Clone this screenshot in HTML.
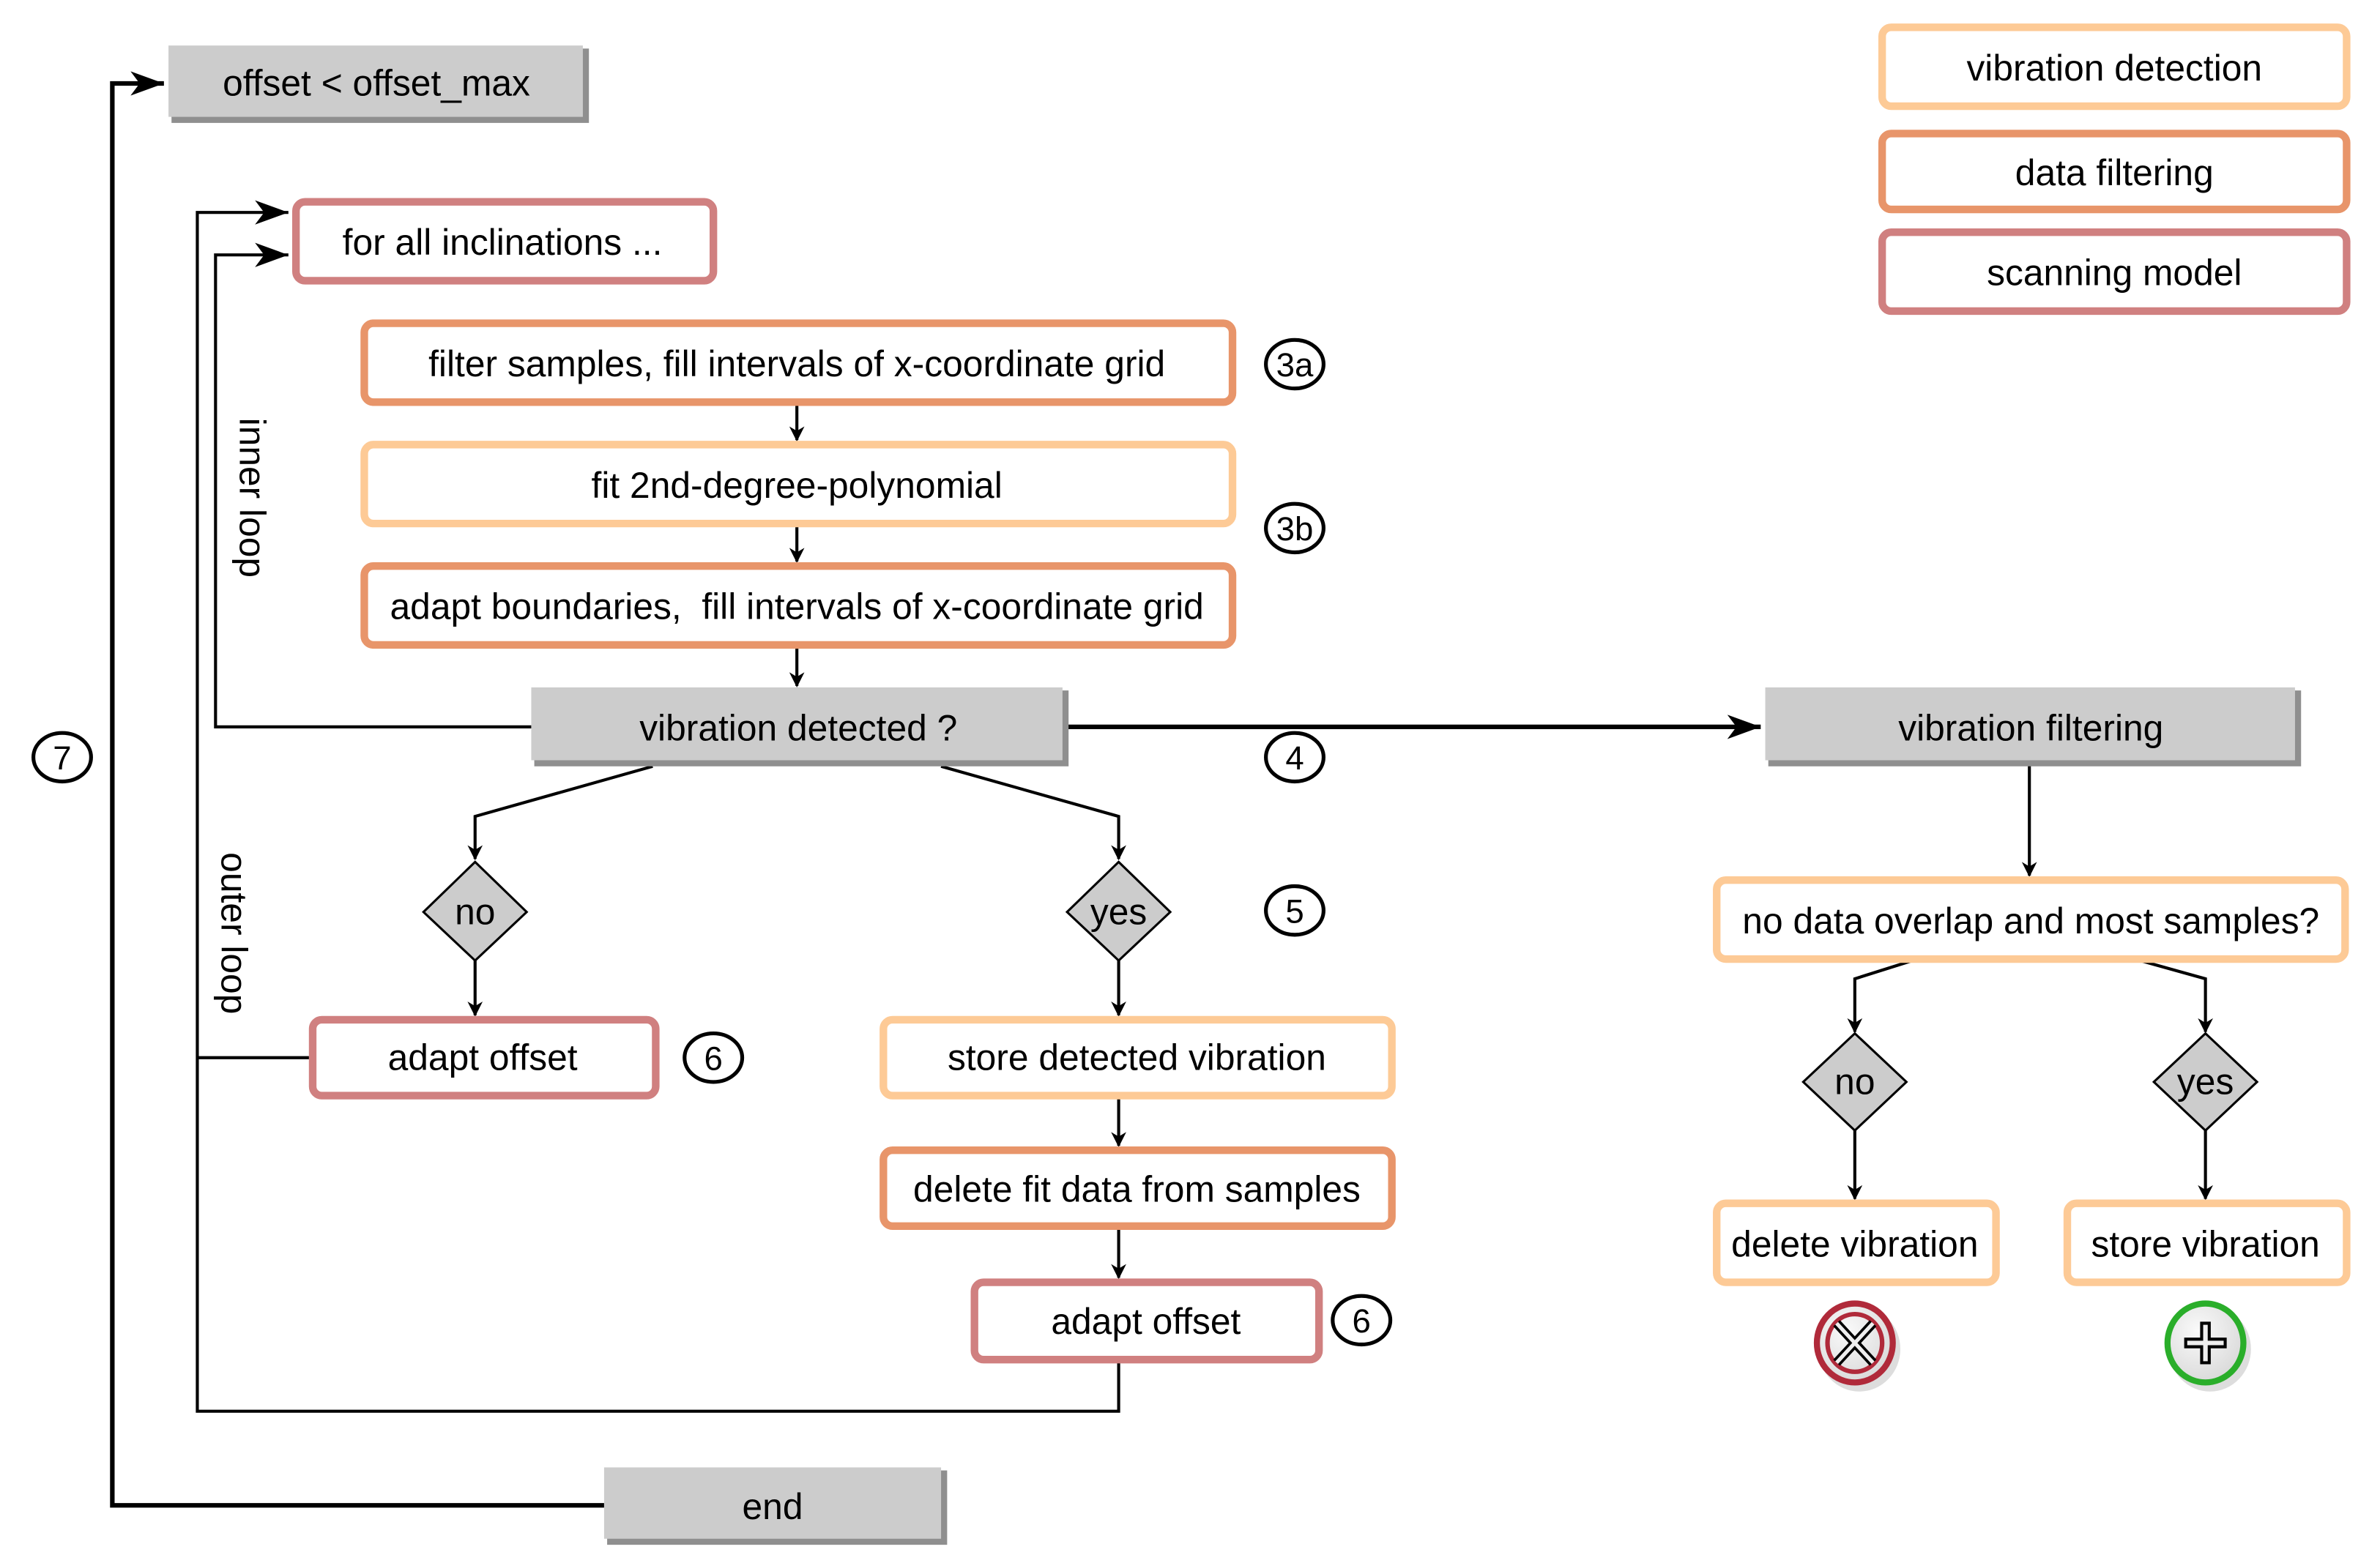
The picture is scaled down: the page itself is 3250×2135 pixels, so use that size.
<!DOCTYPE html>
<html><head><meta charset="utf-8"><style>html,body{margin:0;padding:0;background:#fff}svg{display:block}</style></head>
<body>
<svg xmlns="http://www.w3.org/2000/svg" width="3250" height="2135" viewBox="0 0 1568 1030" preserveAspectRatio="none" font-family="Liberation Sans, Arial, sans-serif" font-size="24" text-anchor="middle">
<defs>
<marker id="a" markerWidth="10" markerHeight="10" refX="9" refY="5" orient="auto" markerUnits="userSpaceOnUse" viewBox="0 0 10 10"><path d="M0,0 L10,5 L0,10 L3,5 Z" fill="#000"/></marker>
<marker id="b" markerWidth="22" markerHeight="16" refX="22" refY="8" orient="auto" markerUnits="userSpaceOnUse"><path d="M0,0 L22,8 L0,16 L6,8 Z" fill="#000"/></marker>
<radialGradient id="g" cx="0.4" cy="0.35" r="0.7"><stop offset="0" stop-color="#fafafa"/><stop offset="1" stop-color="#d8d8d8"/></radialGradient>
</defs>
<g fill="none" stroke="#000" stroke-width="2">
<polyline points="398,992 74,992 74,55 108,55" stroke-width="3" marker-end="url(#b)"/>
<polyline points="737,897 737,930 130,930 130,140 190,140" marker-end="url(#b)"/>
<line x1="204" y1="697" x2="130" y2="697"/>
<polyline points="350,479 142,479 142,168 190,168" marker-end="url(#b)"/>
<line x1="702" y1="479" x2="1160" y2="479" stroke-width="3" marker-end="url(#b)"/>
<line x1="525" y1="266" x2="525" y2="290" marker-end="url(#a)"/>
<line x1="525" y1="346" x2="525" y2="370" marker-end="url(#a)"/>
<line x1="525" y1="426" x2="525" y2="452" marker-end="url(#a)"/>
<polyline points="430,505 313,538 313,566" marker-end="url(#a)"/>
<polyline points="620,505 737,538 737,566" marker-end="url(#a)"/>
<line x1="313" y1="633" x2="313" y2="669" marker-end="url(#a)"/>
<line x1="737" y1="633" x2="737" y2="669" marker-end="url(#a)"/>
<line x1="737" y1="723" x2="737" y2="755" marker-end="url(#a)"/>
<line x1="737" y1="810" x2="737" y2="842" marker-end="url(#a)"/>
<line x1="1337" y1="503" x2="1337" y2="577" marker-end="url(#a)"/>
<polyline points="1260,633 1222,645 1222,680" marker-end="url(#a)"/>
<polyline points="1410,633 1453,645 1453,680" marker-end="url(#a)"/>
<line x1="1222" y1="745" x2="1222" y2="790" marker-end="url(#a)"/>
<line x1="1453" y1="745" x2="1453" y2="790" marker-end="url(#a)"/>
</g>
<g>
<rect x="113" y="32" width="275" height="49" fill="#8f8f8f"/><rect x="111" y="30" width="273" height="47" fill="#cccccc"/>
<rect x="352" y="455" width="352" height="50" fill="#8f8f8f"/><rect x="350" y="453" width="350" height="48" fill="#cccccc"/>
<rect x="1165" y="455" width="351" height="50" fill="#8f8f8f"/><rect x="1163" y="453" width="349" height="48" fill="#cccccc"/>
<rect x="400" y="969" width="224" height="49" fill="#8f8f8f"/><rect x="398" y="967" width="222" height="47" fill="#cccccc"/>
</g>
<g fill="#fff" stroke-width="5">
<rect x="195" y="133" width="275" height="52" rx="6" stroke="#d08080"/>
<rect x="240" y="213" width="572" height="52" rx="6" stroke="#e8956a"/>
<rect x="240" y="293" width="572" height="52" rx="6" stroke="#fdca96"/>
<rect x="240" y="373" width="572" height="52" rx="6" stroke="#e8956a"/>
<rect x="1131" y="580" width="414" height="52" rx="6" stroke="#fdca96"/>
<rect x="206" y="672" width="226" height="50" rx="6" stroke="#d08080"/>
<rect x="582" y="672" width="335" height="50" rx="6" stroke="#fdca96"/>
<rect x="582" y="758" width="335" height="50" rx="6" stroke="#e8956a"/>
<rect x="642" y="845" width="227" height="51" rx="6" stroke="#d08080"/>
<rect x="1131" y="793" width="184" height="52" rx="6" stroke="#fdca96"/>
<rect x="1362" y="793" width="184" height="52" rx="6" stroke="#fdca96"/>
<rect x="1240" y="18" width="306" height="52" rx="6" stroke="#fdca96"/>
<rect x="1240" y="88" width="306" height="50" rx="6" stroke="#e8956a"/>
<rect x="1240" y="153" width="306" height="52" rx="6" stroke="#d08080"/>
</g>
<g fill="#cccccc" stroke="#000" stroke-width="1.5">
<polygon points="313,568 347,601 313,633 279,601"/>
<polygon points="737,568 771,601 737,633 703,601"/>
<polygon points="1222,681 1256,713 1222,745 1188,713"/>
<polygon points="1453,681 1487,713 1453,745 1419,713"/>
</g>
<g fill="#fff" stroke="#000" stroke-width="2.5">
<ellipse cx="853" cy="240" rx="19" ry="16"/>
<ellipse cx="853" cy="348" rx="19" ry="16"/>
<ellipse cx="853" cy="499" rx="19" ry="16"/>
<ellipse cx="853" cy="600" rx="19" ry="16"/>
<ellipse cx="470" cy="697" rx="19" ry="16"/>
<ellipse cx="897" cy="870" rx="19" ry="16"/>
<ellipse cx="41" cy="499" rx="19" ry="16"/>
</g>
<ellipse cx="1225" cy="889" rx="27" ry="28" fill="#bbb" opacity="0.5"/>
<ellipse cx="1222" cy="885" rx="25" ry="26" fill="url(#g)" stroke="#b02a3a" stroke-width="4"/>
<ellipse cx="1222" cy="885" rx="18" ry="19" fill="none" stroke="#b02a3a" stroke-width="3"/>
<path d="M1210,872 L1234,898 M1234,872 L1210,898" stroke="#000" stroke-width="6"/>
<path d="M1210,872 L1234,898 M1234,872 L1210,898" stroke="#eee" stroke-width="2.5"/>
<ellipse cx="1456" cy="889" rx="27" ry="28" fill="#bbb" opacity="0.5"/>
<ellipse cx="1453" cy="885" rx="25" ry="26" fill="url(#g)" stroke="#2aae2a" stroke-width="4"/>
<path d="M1453,871 V899 M1439,885 H1467" stroke="#000" stroke-width="7"/>
<path d="M1453,873 V897 M1441,885 H1465" stroke="#eee" stroke-width="3"/>
<g fill="#000">
<text x="248" y="63">offset &lt; offset_max</text>
<text x="331" y="168">for all inclinations ...</text>
<text x="525" y="248">filter samples, fill intervals of x-coordinate grid</text>
<text x="525" y="328">fit 2nd-degree-polynomial</text>
<text x="525" y="408" xml:space="preserve">adapt boundaries,  fill intervals of x-coordinate grid</text>
<text x="526" y="488">vibration detected ?</text>
<text x="1338" y="488">vibration filtering</text>
<text x="1338" y="615">no data overlap and most samples?</text>
<text x="313" y="609">no</text>
<text x="737" y="609">yes</text>
<text x="1222" y="721">no</text>
<text x="1453" y="721">yes</text>
<text x="318" y="705">adapt offset</text>
<text x="749" y="705">store detected vibration</text>
<text x="749" y="792">delete fit data from samples</text>
<text x="755" y="879">adapt offset</text>
<text x="1222" y="828">delete vibration</text>
<text x="1453" y="828">store vibration</text>
<text x="509" y="1001">end</text>
<text x="1393" y="53">vibration detection</text>
<text x="1393" y="122">data filtering</text>
<text x="1393" y="188">scanning model</text>
<text x="158" y="328" transform="rotate(90 158 328)">inner loop</text>
<text x="146" y="615" transform="rotate(90 146 615)">outer loop</text>
<g font-size="22">
<text x="853" y="248">3a</text>
<text x="853" y="356">3b</text>
<text x="853" y="507">4</text>
<text x="853" y="608">5</text>
<text x="470" y="705">6</text>
<text x="897" y="878">6</text>
<text x="41" y="507">7</text>
</g>
</g>
</svg>
</body></html>
